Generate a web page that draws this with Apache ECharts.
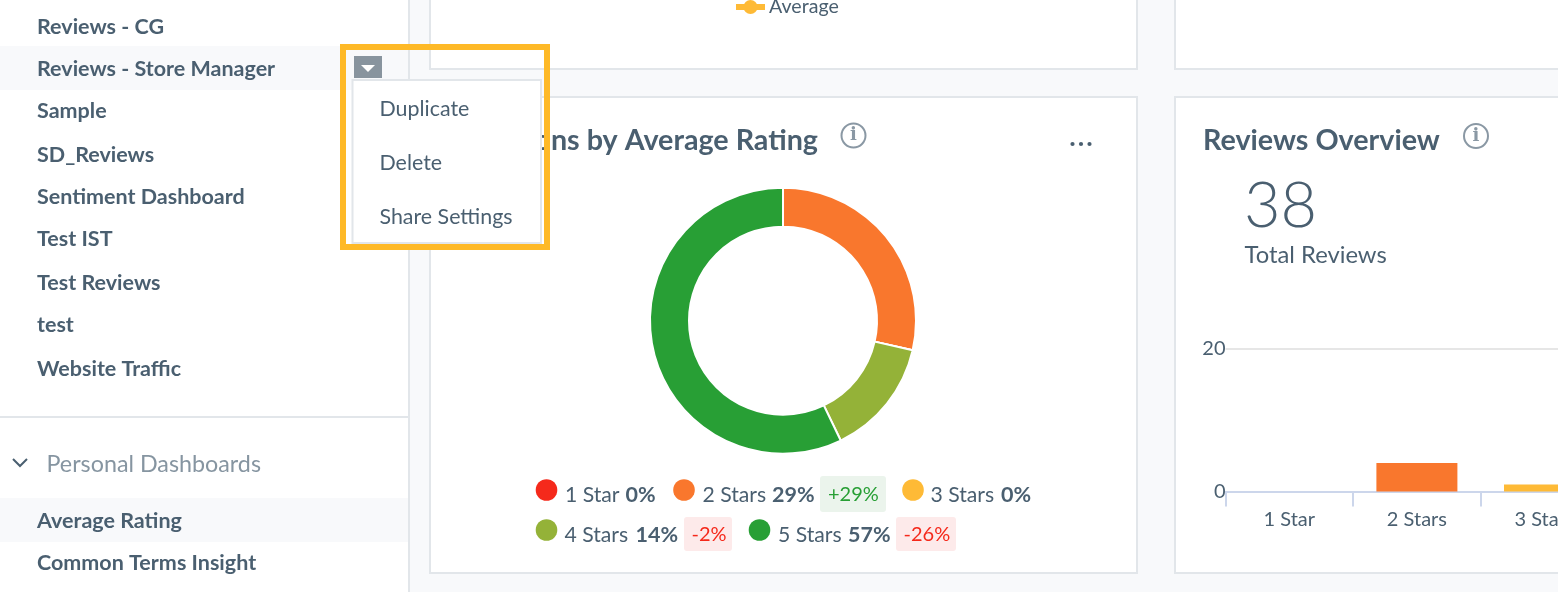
<!DOCTYPE html>
<html lang="en">

<head>
    <meta charset="UTF-8">
    <title>Dashboards</title>
    <style>
        html, body { margin: 0; padding: 0; background: #f8f9fb; overflow: hidden; }
        #main { width: 1558px; height: 592px; }
    </style>
    <script src="https://cdn.jsdelivr.net/npm/echarts@6/dist/echarts.min.js"></script>
</head>

<body>
    <div id="main"></div>
    <script>
        const ratingNames = ['1 Star', '2 Stars', '3 Stars', '4 Stars', '5 Stars'];
        const ratingCounts = [0, 2, 0, 1, 4];
        const ratingShares = ['0%', '29%', '0%', '14%', '57%'];
        const ratingChanges = ['', '+29%', '', '-2%', '-26%'];
        const ratingColors = ['#f5291b', '#f9772d', '#feba36', '#94b238', '#289f35'];

        const overviewNames = ['1 Star', '2 Stars', '3 Stars'];
        const overviewValues = [0, 4, 1];
        const overviewTicks = [0, 20];

        const dashboards = ['Reviews - CG', 'Reviews - Store Manager', 'Sample', 'SD_Reviews', 'Sentiment Dashboard',
            'Test IST', 'Test Reviews', 'test', 'Website Traffic'];
        const personalDashboards = ['Average Rating', 'Common Terms Insight'];
        const menuItems = ['Duplicate', 'Delete', 'Share Settings'];

        const INK = '#4a5f70';
        const LINE = '#e2e6ea';
        const PAGE = '#f8f9fb';
        const FONT = 'Lato';

        function rect(x, y, w, h, fill, stroke, lw, z) {
            return {
                type: 'rect', z: z, silent: true, shape: { x: x, y: y, width: w, height: h },
                style: { fill: fill, stroke: stroke || null, lineWidth: lw || 0 }
            };
        }

        function label(str, x, y, size, color, weight, z, align, family) {
            return {
                type: 'text', z: z === undefined ? 20 : z, silent: true, x: x, y: y,
                style: {
                    text: str, fill: color || INK, fontSize: size, fontWeight: weight || 'normal',
                    fontFamily: family || FONT, textVerticalAlign: 'middle', verticalAlign: 'middle', align: align || 'left'
                }
            };
        }

        function dot(cx, cy, r, fill, z) {
            return { type: 'circle', z: z === undefined ? 20 : z, silent: true, shape: { cx: cx, cy: cy, r: r }, style: { fill: fill } };
        }

        function infoIcon(cx, cy) {
            return [
                { type: 'circle', z: 20, silent: true, shape: { cx: cx, cy: cy, r: 12 }, style: { fill: 'none', stroke: '#8a98a4', lineWidth: 2 } },
                label('i', cx, cy, 18, '#8a98a4', 'bold', 20, 'center', 'DejaVu Serif')
            ];
        }

        let g = [];

        // sidebar and cards
        g.push(rect(0, 0, 409, 592, '#fff', null, 0, -5));
        g.push(rect(408, 0, 2, 592, LINE, null, 0, -4));
        g.push(rect(0, 416, 409, 2, LINE, null, 0, -4));
        g.push(rect(0, 46, 408, 44, PAGE, null, 0, -4));
        g.push(rect(0, 498, 408, 44, PAGE, null, 0, -4));
        g.push(rect(430, -40, 707, 109, '#fff', LINE, 2, -5));
        g.push(rect(1175, -40, 500, 109, '#fff', LINE, 2, -5));
        g.push(rect(430, 97, 707, 476, '#fff', LINE, 2, -5));
        g.push(rect(1175, 97, 500, 476, '#fff', LINE, 2, -5));

        const rowY = [27, 69, 111, 155, 197, 239, 283, 325, 369];
        dashboards.forEach(function (name, i) {
            g.push(label(name, 37, rowY[i], 21.5, INK, 'bold'));
        });
        g.push({
            type: 'polyline', z: 20, silent: true, shape: { points: [[13, 459], [20, 466], [27, 459]] },
            style: { fill: 'none', stroke: INK, lineWidth: 2 }
        });
        g.push(label('Personal Dashboards', 46.5, 464.5, 23.3, '#8695a1'));
        g.push(label(personalDashboards[0], 37, 521, 21.5, INK, 'bold'));
        g.push(label(personalDashboards[1], 37, 563, 21.5, INK, 'bold'));

        // top leftovers
        g.push({ type: 'rect', z: 20, silent: true, shape: { x: 736, y: 4, width: 29, height: 6 }, style: { fill: '#feba36' } });
        g.push(dot(750.5, 7, 7, '#feba36'));
        g.push(label('Average', 769, 6.5, 19.6));

        // donut card
        g.push(label('ions by Average Rating', 818, 141, 28.7, INK, 'bold', 20, 'right'));
        g = g.concat(infoIcon(853.5, 135.5));
        [1072.5, 1081, 1089.5].forEach(function (x) { g.push(dot(x, 144, 2.1, INK)); });

        // legend under the donut
        const legendLayout = [
            { dot: [546.5, 490], name: 565, share: 625.5, y: 495 },
            { dot: [684, 490], name: 702.5, share: 772, y: 495, box: [820, 476, 66, 36], tx: 828 },
            { dot: [913, 490], name: 930.5, share: 1001, y: 495 },
            { dot: [546.5, 530], name: 564.5, share: 635.5, y: 535, box: [684, 517, 48, 34], tx: 691.5 },
            { dot: [759.5, 530], name: 778, share: 848, y: 535, box: [896, 517, 60, 34], tx: 903.5 }
        ];
        ratingNames.forEach(function (name, i) {
            const l = legendLayout[i];
            g.push(dot(l.dot[0], l.dot[1], 10.8, ratingColors[i]));
            g.push(label(name, l.name, l.y, 21.2));
            g.push(label(ratingShares[i], l.share, l.y, 21.5, INK, 'bold'));
            if (ratingChanges[i]) {
                const up = ratingChanges[i].charAt(0) === '+';
                g.push({
                    type: 'rect', z: 19, silent: true,
                    shape: { x: l.box[0], y: l.box[1], width: l.box[2], height: l.box[3], r: 3 },
                    style: { fill: up ? '#ebf4ec' : '#fdeaea' }
                });
                g.push(label(ratingChanges[i], l.tx, l.y, 20, up ? '#289f35' : '#f5291b'));
            }
        });

        // overview card
        g.push(label('Reviews Overview', 1203, 141, 28.7, INK, 'bold'));
        g = g.concat(infoIcon(1476, 136));
        g.push(label('38', 1244, 207, 63, INK, 300));
        g.push(label('Total Reviews', 1244.5, 255.5, 23.8));

        // dropdown on top of everything
        g.push(rect(343, 47, 204, 200, 'none', '#feb927', 6, 30));
        g.push(rect(352.5, 80, 188.5, 163, '#fff', LINE, 2, 31));
        g.push(rect(354, 56, 28, 22, '#88949e', null, 0, 32));
        g.push({
            type: 'polygon', z: 33, silent: true, shape: { points: [[361, 65], [375, 65], [368, 72]] },
            style: { fill: '#fff' }
        });
        [109, 163, 217].forEach(function (y, i) {
            g.push(label(menuItems[i], 379.5, y, 21.4, INK, 'normal', 33));
        });

        const chart = echarts.init(document.getElementById('main'));
        chart.setOption({
            animation: false,
            backgroundColor: PAGE,
            textStyle: { fontFamily: FONT, color: INK },
            graphic: { elements: g },
            grid: { left: 1225.5, top: 349, width: 382.8, height: 142.5, containLabel: false, outerBoundsMode: 'none' },
            xAxis: {
                type: 'category',
                data: overviewNames,
                axisLine: { lineStyle: { color: '#ccd6eb', width: 2 } },
                axisTick: { show: true, length: 15, lineStyle: { color: '#ccd6eb', width: 2 } },
                axisLabel: { fontSize: 20, color: INK, margin: 18, fontFamily: FONT }
            },
            yAxis: {
                type: 'value',
                min: overviewTicks[0],
                max: overviewTicks[1],
                interval: overviewTicks[1],
                axisLine: { show: false },
                axisTick: { show: false },
                axisLabel: { fontSize: 20, color: INK, margin: 0, fontFamily: FONT },
                splitLine: { lineStyle: { color: '#e6e6e6', width: 2 } }
            },
            series: [
                {
                    type: 'pie',
                    center: [783, 320.7],
                    radius: [94, 133],
                    startAngle: 90,
                    label: { show: false },
                    labelLine: { show: false },
                    itemStyle: { borderColor: '#fff', borderWidth: 2 },
                    data: ratingNames.map(function (name, i) {
                        return { name: name, value: ratingCounts[i], itemStyle: { color: ratingColors[i] } };
                    })
                },
                {
                    type: 'bar',
                    barWidth: 81,
                    data: overviewValues.map(function (v, i) {
                        return { value: v, itemStyle: { color: ratingColors[i] } };
                    })
                }
            ]
        });
    </script>
</body>

</html>
